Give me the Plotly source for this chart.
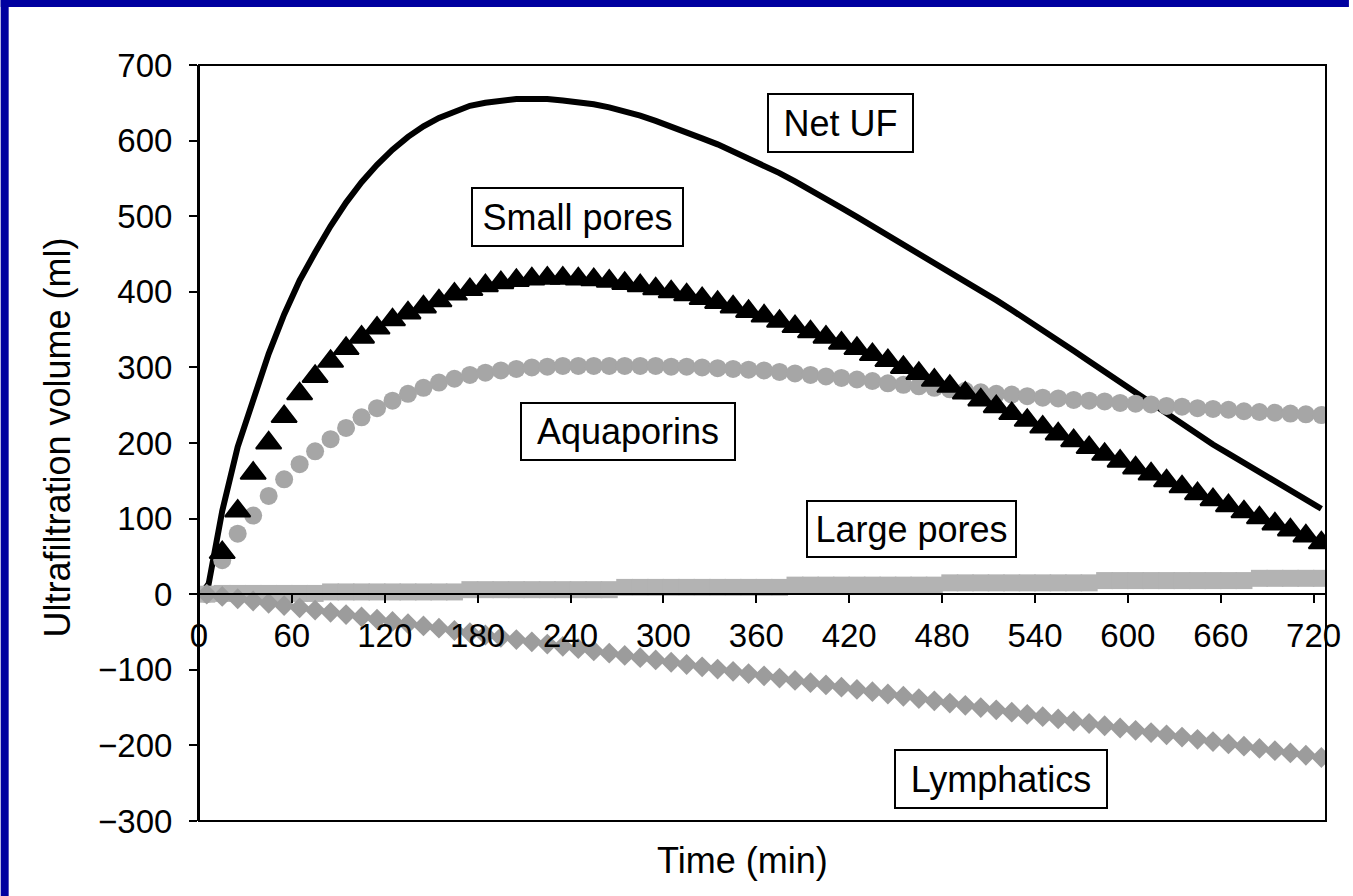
import plotly.graph_objects as go

# ---------------- data ----------------
TIME = list(range(5, 726, 10))  # minutes

NET_UF = [0, 110, 195, 258, 318, 370, 415, 452, 487, 518,
          545, 568, 588, 605, 619, 630, 639, 646, 650, 653,
          655, 655, 655, 653, 651, 648, 644, 639, 633, 626,
          619, 611, 603, 595, 586, 577, 567, 557, 546, 535,
          523, 511, 499, 487, 475, 463, 451, 439, 427, 415,
          402, 389, 376, 363, 350, 336, 322, 308, 294, 280,
          266, 252, 238, 224, 211, 198, 186, 174, 162, 150,
          138, 126, 113]

SMALL_PORES = [0, 55, 110, 160, 200, 235, 265, 288, 308, 325,
               340, 352, 363, 372, 380, 388, 397, 403, 408, 412,
               415, 417, 418, 418, 417, 416, 414, 411, 408, 404,
               400, 396, 391, 386, 380, 374, 368, 361, 354, 347,
               340, 332, 325, 317, 309, 300, 292, 283, 275, 266,
               257, 248, 239, 230, 221, 212, 203, 194, 185, 176,
               167, 159, 150, 142, 133, 125, 117, 109, 101, 93,
               85, 77, 68]

AQUAPORINS = [0, 45, 80, 104, 130, 152, 172, 189, 205, 220,
              234, 246, 256, 265, 273, 280, 285, 290, 293, 296,
              298, 300, 301, 302, 302, 302, 302, 302, 302, 302,
              301, 301, 300, 299, 298, 297, 296, 294, 292, 290,
              288, 286, 284, 282, 279, 277, 275, 273, 271, 269,
              267, 265, 264, 262, 260, 259, 257, 256, 255, 253,
              252, 251, 249, 248, 246, 245, 244, 242, 241, 240,
              239, 238, 237]

LARGE_PORES = [0, 1, 1, 1, 1, 1, 1, 1, 3, 3,
               3, 3, 3, 3, 3, 3, 3, 6, 6, 6,
               6, 6, 6, 6, 6, 6, 6, 9, 9, 9,
               9, 9, 9, 9, 9, 9, 9, 9, 12, 12,
               12, 12, 12, 12, 12, 12, 12, 12, 15, 15,
               15, 15, 15, 15, 15, 15, 15, 15, 18, 18,
               18, 18, 18, 18, 18, 18, 18, 18, 21, 21,
               21, 21, 21]

LYMPHATICS = [0, -3, -6, -9, -12, -15, -18, -21, -24, -27,
              -30, -33, -36, -39, -42, -45, -48, -51, -54, -57,
              -60, -63, -66, -69, -72, -75, -78, -81, -84, -87,
              -90, -93, -96, -99, -102, -105, -108, -111, -114, -117,
              -120, -123, -126, -129, -132, -135, -138, -141, -144, -147,
              -150, -153, -156, -159, -162, -165, -168, -171, -174, -177,
              -180, -183, -186, -189, -192, -195, -198, -201, -204, -207,
              -210, -213, -216]

X_TICKS = [0, 60, 120, 180, 240, 300, 360, 420, 480, 540, 600, 660, 720]
Y_TICKS = [-300, -200, -100, 0, 100, 200, 300, 400, 500, 600, 700]

LABELS = ["Net UF", "Small pores", "Aquaporins", "Large pores", "Lymphatics"]

# ---------------- layout geometry ----------------
W, H = 1353, 896
L, R, T, B = 199, 23, 65, 75
PW, PH = W - L - R, H - T - B
FONT = "Liberation Sans, Arial, sans-serif"


def px_x(px):
    return (px - L) / PW


def px_y(py):
    return (H - B - py) / PH


fig = go.Figure()

fig.add_trace(go.Scatter(x=TIME, y=NET_UF, mode="lines", name="Net UF",
                         line=dict(color="black", width=6)))
fig.add_trace(go.Scatter(x=TIME, y=AQUAPORINS, mode="markers", name="Aquaporins",
                         marker=dict(symbol="circle", size=18, color="#a6a6a6")))
fig.add_trace(go.Scatter(x=TIME, y=SMALL_PORES, mode="markers", name="Small pores",
                         marker=dict(symbol="triangle-up", size=22, color="black",
                                     line=dict(color="black", width=2))))
fig.add_trace(go.Scatter(x=TIME, y=LARGE_PORES, mode="markers", name="Large pores",
                         marker=dict(symbol="square", size=17, color="#b3b3b3")))
fig.add_trace(go.Scatter(x=TIME, y=LYMPHATICS, mode="markers", name="Lymphatics",
                         marker=dict(symbol="diamond", size=16, color="#9c9c9c")))

# label boxes: (left, top, right, bottom) in pixels
boxes = [(769, 93, 916, 153), (472, 187, 685, 247), (522, 402, 738, 461),
         (809, 500, 1020, 558), (897, 749, 1111, 809)]
annotations = []
BW, PAD = 2, 2
for text, (x0, y0, x1, y1) in zip(LABELS, boxes):
    annotations.append(dict(
        x=px_x((x0 + x1) / 2), y=px_y((y0 + y1) / 2), xref="paper", yref="paper",
        text=text, showarrow=False, xanchor="center", yanchor="middle",
        width=(x1 - x0) - 2 * (BW + PAD), height=(y1 - y0) - 2 * (BW + PAD),
        bordercolor="black", borderwidth=BW, borderpad=PAD, bgcolor="white",
        font=dict(family=FONT, size=36, color="black")))

annotations.append(dict(x=px_x(744), y=px_y(860), xref="paper", yref="paper",
                        text="Time (min)", showarrow=False, xanchor="center", yanchor="middle",
                        font=dict(family=FONT, size=36, color="black")))
annotations.append(dict(x=px_x(56), y=px_y(438), xref="paper", yref="paper",
                        text="Ultrafiltration volume (ml)", showarrow=False, textangle=-90,
                        xanchor="center", yanchor="middle",
                        font=dict(family=FONT, size=36, color="black")))

shapes = [
    # plot frame
    dict(type="rect", xref="paper", yref="paper", x0=0, x1=1, y0=0, y1=1,
         line=dict(color="black", width=2), fillcolor="rgba(0,0,0,0)", layer="above"),
    # blue border strips (left and top)
    dict(type="rect", xref="paper", yref="paper", x0=px_x(0), x1=px_x(8),
         y0=px_y(H), y1=px_y(0), line=dict(width=0), fillcolor="#0000a0", layer="above"),
    dict(type="rect", xref="paper", yref="paper", x0=px_x(0), x1=px_x(W),
         y0=px_y(7), y1=px_y(0), line=dict(width=0), fillcolor="#0000a0", layer="above"),
]

fig.update_layout(
    width=W, height=H,
    margin=dict(l=L, r=R, t=T, b=B, pad=0),
    paper_bgcolor="white", plot_bgcolor="white",
    showlegend=False,
    annotations=annotations,
    shapes=shapes,
    xaxis=dict(range=[0, 728], tickvals=X_TICKS, ticks="outside", ticklen=8, tickwidth=2,
               tickcolor="black", showline=True, linewidth=2, linecolor="black",
               anchor="free", position=0.3, showgrid=False, zeroline=False,
               ticklabelstandoff=4,
               tickfont=dict(family=FONT, size=33, color="black")),
    yaxis=dict(range=[-300, 700], tickvals=Y_TICKS, ticks="outside", ticklen=8, tickwidth=2,
               tickcolor="black", showline=True, linewidth=2, linecolor="black",
               showgrid=False, zeroline=False, ticklabelstandoff=10,
               tickfont=dict(family=FONT, size=33, color="black")),
)

fig.write_html("out.html")
